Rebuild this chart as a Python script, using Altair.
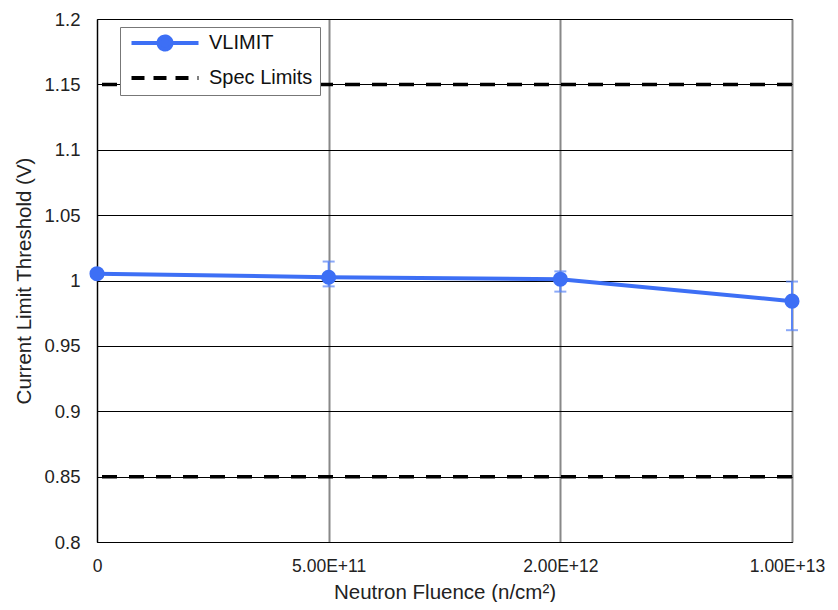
import altair as alt
import pandas as pd

fluence = ["0", "5.00E+11", "2.00E+12", "1.00E+13"]
vlimit = [1.0052, 1.0025, 1.0010, 0.9842]
err_low = [1.0045, 0.9955, 0.9915, 0.9620]
err_high = [1.0058, 1.0145, 1.0070, 0.9992]
spec_limits = [0.85, 1.15]
series_names = ["VLIMIT", "Spec Limits"]
y_ticks = [0.8, 0.85, 0.9, 0.95, 1.0, 1.05, 1.1, 1.15, 1.2]

BLUE = "#3d6ff5"
ERRBLUE = "#5a85f5"
FONT = "Liberation Sans"

df = pd.DataFrame({"fluence": fluence, "v": vlimit, "lo": err_low, "hi": err_high})
spec = pd.DataFrame({"y": spec_limits})
leg = pd.DataFrame({"series": series_names})

LINE_CIRCLE = "M-3.35,0L3.35,0M-0.65,0A0.65,0.65,0,1,1,0.65,0A0.65,0.65,0,1,1,-0.65,0Z"
LINE_ONLY = "M-3.35,0L3.35,0"

legend = alt.Legend(
    title=None, orient="none", legendX=23, legendY=8,
    strokeColor="#777", fillColor="white", padding=7, cornerRadius=0,
    symbolSize=400, symbolOffset=26, labelOffset=32, symbolStrokeWidth=4,
    symbolOpacity=1,
    labelFont=FONT, labelFontSize=20, labelColor="#111",
    clipHeight=18, rowPadding=15,
)

xenc = alt.X("fluence:O", sort=fluence, scale=alt.Scale(type="point", padding=0),
             axis=alt.Axis(title="Neutron Fluence (n/cm²)", labelAngle=0, ticks=False,
                           labelFontSize=17.5, labelPadding=15, titlePadding=8, grid=True,
                           labelOffset={"condition": {"test": "datum.value === '1.00E+13'", "value": -5}, "value": 0},
                           gridColor="#888", gridWidth=2, domainColor="black"))
yscale = alt.Scale(domain=[0.8, 1.2], nice=False, zero=False)
yaxis = alt.Axis(title="Current Limit Threshold (V)", values=y_ticks,
                 format="~g", ticks=False, labelFontSize=18.5, labelPadding=17, titlePadding=9,
                 grid=True, gridColor="black", gridWidth=1, domainColor="black")

specrule = alt.Chart(spec).mark_rule(strokeWidth=3.5, strokeDash=[15, 12], color="black").encode(
    y=alt.Y("y:Q", scale=yscale, axis=yaxis),
)

errs = alt.Chart(df).mark_rule(color=ERRBLUE, strokeWidth=2).encode(
    x=xenc, y=alt.Y("lo:Q", scale=yscale, axis=yaxis), y2="hi:Q")
caps_lo = alt.Chart(df).mark_tick(color=ERRBLUE, size=12, thickness=2).encode(
    x=xenc, y=alt.Y("lo:Q", scale=yscale, axis=yaxis))
caps_hi = alt.Chart(df).mark_tick(color=ERRBLUE, size=12, thickness=2).encode(
    x=xenc, y=alt.Y("hi:Q", scale=yscale, axis=yaxis))

line = alt.Chart(df).mark_line(strokeWidth=4, color=BLUE,
                               point=alt.OverlayMarkDef(filled=True, size=227, opacity=1, color=BLUE)).encode(
    x=xenc,
    y=alt.Y("v:Q", scale=yscale, axis=yaxis),
)

cscale = alt.Scale(domain=series_names, range=[BLUE, "black"])
legend_layer = alt.Chart(leg).mark_point(opacity=0).encode(
    shape=alt.Shape("series:N", scale=alt.Scale(domain=series_names, range=[LINE_CIRCLE, LINE_ONLY]), legend=legend),
    fill=alt.Fill("series:N", scale=cscale, legend=legend),
    stroke=alt.Stroke("series:N", scale=cscale, legend=legend),
    strokeDash=alt.StrokeDash("series:N", scale=alt.Scale(domain=series_names, range=[[1, 0], [13, 9]]), legend=legend),
)

chart = alt.layer(specrule, errs, caps_lo, caps_hi, line, legend_layer).properties(
    width=695, height=523,
    autosize=alt.AutoSizeParams(type="none"),
    padding={"left": 89, "top": 11, "right": 38, "bottom": 60},
).configure_view(stroke="black", strokeWidth=1).configure_axis(
    labelFont=FONT, labelColor="#222",
    titleFont=FONT, titleFontSize=20.5, titleColor="#222", titleFontWeight="normal",
)

chart.save("out.html", embed_options={"renderer": "svg", "actions": False})
